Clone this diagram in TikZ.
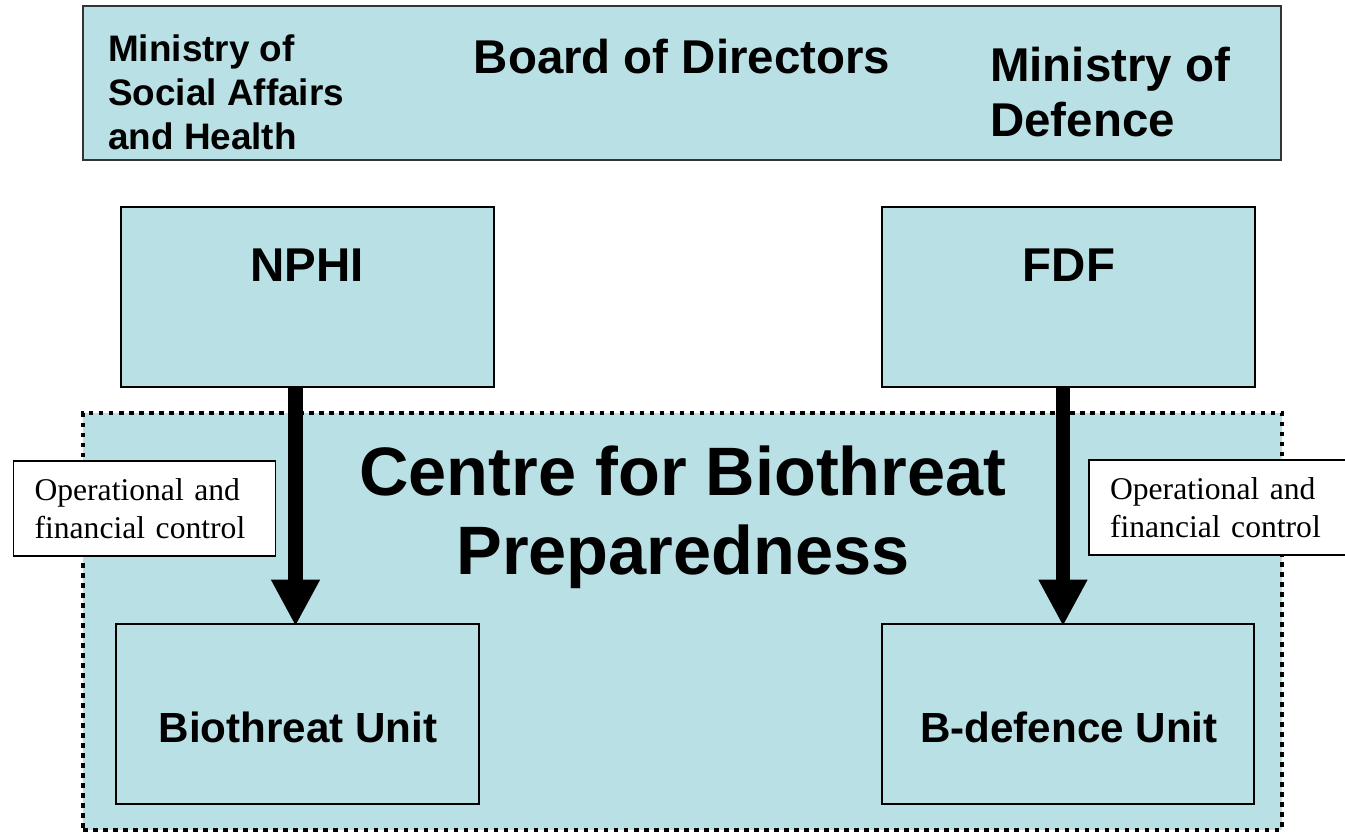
\documentclass[tikz,border=0pt]{standalone}
\usepackage{fontspec}
\setmainfont{Liberation Sans}
\newfontfamily\notefont{Liberation Serif}
\usetikzlibrary{arrows.meta, positioning, calc}
\definecolor{paleblue}{RGB}{185,224,228}

\tikzset{
  orgbox/.style={draw=black, line width=1pt, fill=paleblue, inner sep=0pt},
  centrebox/.style={draw=black, fill=paleblue, line width=2.4pt, dash pattern=on 2.6pt off 3.1pt, inner sep=0pt},
  notebox/.style={draw=black, line width=0.8pt, fill=white, align=left, text width=4.4cm,
    inner xsep=12pt, minimum height=1.9cm, font=\notefont\fontsize{18}{21.5}\selectfont},
  ctrlarrow/.style={line width=8.5pt, -{Triangle[length=26.5pt, width=26pt]}},
  bold/.style 2 args={font=\bfseries\fontsize{#1}{#2}\selectfont}
}

\begin{document}
\begin{tikzpicture}[x=0.02cm, y=-0.02cm]
    \useasboundingbox (0,0) rectangle (1345,833);
    % board of directors
    \node[orgbox, draw=black!80, line width=1.3pt, minimum width=23.96cm, minimum height=3.08cm] (board) at (682,83) {};
    \node[bold={21}{25}, align=left, anchor=west] (msah) at (102,92) {Ministry of\\Social Affairs\\and Health};
    \node[bold={27}{31}] (bod) at (682,57) {Board of Directors};
    \node[bold={27}{31}, align=left, anchor=west] (mod) at (984,92) {Ministry of\\Defence};
    % institutes
    \node[orgbox, minimum width=7.46cm, minimum height=3.6cm] (nphi) at (307.5,297) {};
    \node[bold={27}{31}] at (307,265) {NPHI};
    \node[orgbox, minimum width=7.46cm, minimum height=3.6cm] (fdf) at (1068.5,297) {};
    \node[bold={27}{31}] at (1069,265) {FDF};
    % the centre
    \node[centrebox, minimum width=23.98cm, minimum height=8.34cm] (cbp) at (682.5,621.5) {};
    \node[bold={39}{45}, align=center] (cbptxt) at (683,517) {Centre for Biothreat\\Preparedness};
    \node[orgbox, minimum width=7.26cm, minimum height=3.6cm] (bio) at (297.5,714) {};
    \node[bold={24}{27.6}] at (298,727) {Biothreat Unit};
    \node[orgbox, minimum width=7.44cm, minimum height=3.6cm] (bdef) at (1068,714) {};
    \node[bold={24}{27.6}] at (1069,727) {B-defence Unit};
    % control
    \node[notebox] (ctrlL) at (144.5,508.5) {Operational and\\financial control};
    \node[notebox] (ctrlR) at (1220,507.5) {Operational and\\financial control};
    \draw[ctrlarrow] ($(nphi.south -| bio.north)+(-2,0)$) -- ($(bio.north)+(-2,3)$);
    \draw[ctrlarrow] ($(fdf.south -| bdef.north)+(-5,0)$) -- ($(bdef.north)+(-5,3)$);
\end{tikzpicture}
\end{document}
